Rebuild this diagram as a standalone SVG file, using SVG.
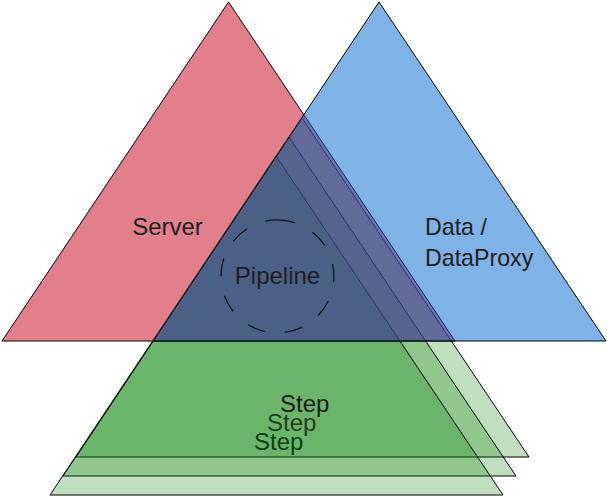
<svg xmlns="http://www.w3.org/2000/svg" width="607" height="497" viewBox="0 0 607 497">
<style>
.tri{stroke:#000;stroke-width:1}
.green{fill:#008000;fill-opacity:0.25}
.red{fill:#c40018;fill-opacity:0.5}
.blue{fill:#0066cc;fill-opacity:0.5}
text{font-family:"Liberation Sans",Arial,sans-serif;font-size:24px;fill:#1e1e1e}
.mid{text-anchor:middle}
</style>
<rect width="607" height="497" fill="#fff"/>
<g id="steps">
  <g id="step1"><polygon class="tri green" points="302,118 529,457 76,457"/></g>
  <g id="step2"><polygon class="tri green" points="289,137 516,476 63,476"/></g>
  <g id="step3"><polygon class="tri green" points="276,156 503,495 50,495"/></g>
</g>
<g id="server"><polygon class="tri red" points="228.5,2 455,341 2,341"/></g>
<g id="data"><polygon class="tri blue" points="379,2 606,341 153,341"/></g>
<g id="pipeline">
  <path d="M277.4,219.9 A56.5,56.5 0 1,1 277.4,332.9 A56.5,56.5 0 1,1 277.4,219.9" fill="none" stroke="#111" stroke-width="1.2" stroke-dasharray="18 20"/>
  <text class="mid" x="277.5" y="284">Pipeline</text>
</g>
<g id="labels">
  <text class="mid" x="167.5" y="235">Server</text>
  <text x="425" y="235" style="font-size:23.2px">Data /</text>
  <text x="425" y="265.5" style="font-size:23.2px">DataProxy</text>
  <text x="280" y="411.7" style="fill:#1c1c1c">Step</text>
  <text x="267" y="430.7" style="fill:#1f401f">Step</text>
  <text x="254" y="449.7" style="fill:#0e3e0e">Step</text>
</g>
</svg>
